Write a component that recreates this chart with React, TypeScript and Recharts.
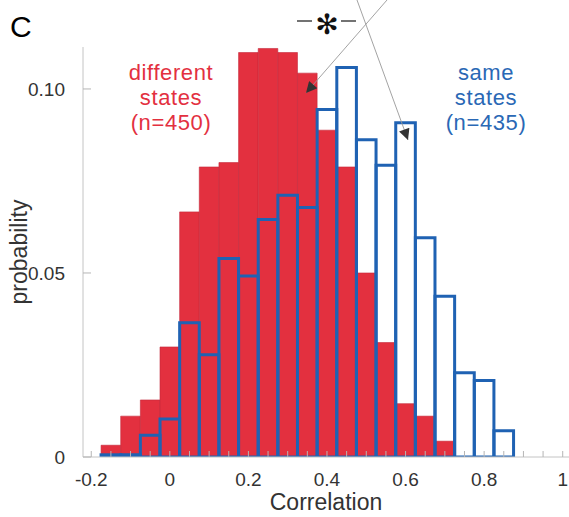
import { Bar, BarChart, XAxis, YAxis } from "recharts";

// histogram bin centres (bin width 0.05)
const binCenters = [
  -0.15, -0.1, -0.05, 0, 0.05, 0.1, 0.15, 0.2, 0.25, 0.3, 0.35, 0.4, 0.45,
  0.5, 0.55, 0.6, 0.65, 0.7, 0.75, 0.8, 0.85,
];

// probability per bin, "different states" (n=450)
const differentStates = [
  0.0032, 0.0111, 0.0155, 0.0299, 0.0666, 0.0788, 0.08, 0.1099, 0.111, 0.1099,
  0.1043, 0.0888, 0.0788, 0.05, 0.0311, 0.0145, 0.0111, 0.0043, null, null,
  null,
];

// probability per bin, "same states" (n=435)
const sameStates = [
  0.0006, 0.0006, 0.0059, 0.0103, 0.0365, 0.0278, 0.0539, 0.0492, 0.0645,
  0.0711, 0.0678, 0.0944, 0.1058, 0.0862, 0.0793, 0.0908, 0.0596, 0.0437,
  0.0229, 0.0208, 0.0071,
];

const xTicks = [
  -0.2, -0.15, -0.1, -0.05, 0, 0.05, 0.1, 0.15, 0.2, 0.25, 0.3, 0.35, 0.4,
  0.45, 0.5, 0.55, 0.6, 0.65, 0.7, 0.75, 0.8, 0.85, 0.9, 0.95, 1,
];
const xLabelValues = [-0.2, 0, 0.2, 0.4, 0.6, 0.8, 1];
const xLabels = ["-0.2", "0", "0.2", "0.4", "0.6", "0.8", "1"];

const yTicks = [0, 0.05, 0.1];
const yLabels = ["0", "0.05", "0.10"];

const RED = "#e3303f";
const BLUE = "#1f62b3";
const FONT = "'Liberation Sans', Arial, Helvetica, sans-serif";

const data = binCenters.map((x, i) => ({
  x,
  different: differentStates[i],
  same: sameStates[i],
}));

const XTick = ({ x, y, payload }: any) => {
  const idx = xLabelValues.findIndex((v) => Math.abs(v - payload.value) < 1e-6);
  return (
    <g>
      <line x1={x} x2={x} y1={y} y2={y - 6} stroke="#b5b5b5" strokeWidth={1} />
      {idx >= 0 && (
        <text
          x={x}
          y={y + 29}
          textAnchor="middle"
          fontSize={19}
          fontFamily={FONT}
          fill="#333"
        >
          {xLabels[idx]}
        </text>
      )}
    </g>
  );
};

const YTick = ({ x, y, payload }: any) => {
  const idx = yTicks.findIndex((v) => Math.abs(v - payload.value) < 1e-6);
  return (
    <g>
      <line x1={x} x2={x + 8} y1={y} y2={y} stroke="#b5b5b5" strokeWidth={1} />
      <text
        x={x - 18}
        y={y + 7}
        textAnchor="end"
        fontSize={19}
        fontFamily={FONT}
        fill="#333"
      >
        {yLabels[idx]}
      </text>
    </g>
  );
};

export default function App() {
  return (
    <div
      style={{
        position: "absolute",
        left: 0,
        top: 0,
        width: 569,
        height: 517,
        background: "#fff",
        fontFamily: FONT,
      }}
    >
      <BarChart
        width={569}
        height={517}
        data={data}
        margin={{ top: 47, right: 0, bottom: 0, left: 0 }}
        barCategoryGap={0}
        barGap={0}
      >
        <XAxis
          xAxisId="diff"
          dataKey="x"
          type="number"
          domain={[-0.221, 1.016]}
          allowDataOverflow
          ticks={xTicks}
          interval={0}
          tickSize={0}
          tickMargin={0}
          tickLine={false}
          tick={<XTick />}
          stroke="#c4c4c4"
          height={60}
          label={{
            value: "Correlation",
            position: "insideBottom",
            offset: 7,
            fontSize: 23,
            fill: "#333",
            fontFamily: FONT,
          }}
        />
        <XAxis
          xAxisId="same"
          dataKey="x"
          type="number"
          domain={[-0.221, 1.016]}
          allowDataOverflow
          hide
          height={0}
        />
        <YAxis
          type="number"
          domain={[0, 0.1114]}
          allowDataOverflow
          ticks={yTicks}
          interval={0}
          tickSize={0}
          tickMargin={0}
          tickLine={false}
          tick={<YTick />}
          stroke="#c4c4c4"
          width={83}
          label={{
            value: "probability",
            angle: -90,
            position: "insideLeft",
            offset: 19,
            fontSize: 23,
            fill: "#333",
            fontFamily: FONT,
            style: { textAnchor: "middle" },
          }}
        />
        <Bar
          xAxisId="diff"
          dataKey="different"
          fill={RED}
          stroke="#c4283a"
          strokeWidth={0.6}
          barSize={19.6}
          isAnimationActive={false}
        />
        <Bar
          xAxisId="same"
          dataKey="same"
          fill="none"
          stroke={BLUE}
          strokeWidth={3}
          barSize={19.6}
          isAnimationActive={false}
        />
      </BarChart>

      <svg
        width={569}
        height={517}
        style={{ position: "absolute", left: 0, top: 0, pointerEvents: "none" }}
      >
        <defs>
          <marker
            id="head"
            viewBox="0 0 10 10"
            refX="10"
            refY="5"
            markerWidth="15"
            markerHeight="11"
            markerUnits="userSpaceOnUse"
            orient="auto"
          >
            <path d="M0,0 L10,5 L0,10 z" fill="#333" />
          </marker>
        </defs>
        <text x={10} y={37} fontSize={30} fontFamily={FONT} fill="#000">
          C
        </text>
        <g
          fontFamily={FONT}
          fontSize={22}
          letterSpacing={0.6}
          fill={RED}
          textAnchor="middle"
        >
          <text x={171} y={80}>different</text>
          <text x={171} y={105}>states</text>
          <text x={171} y={130}>(n=450)</text>
        </g>
        <g
          fontFamily={FONT}
          fontSize={22}
          letterSpacing={0.6}
          fill="#2a68b5"
          textAnchor="middle"
        >
          <text x={486} y={80}>same</text>
          <text x={486} y={105}>states</text>
          <text x={486} y={130}>(n=435)</text>
        </g>
        <line x1={297} x2={312} y1={21} y2={21} stroke="#444" strokeWidth={1.5} />
        <line x1={341} x2={356} y1={21} y2={21} stroke="#444" strokeWidth={1.5} />
        <text
          x={327}
          y={24}
          fontSize={28}
          fontFamily="'DejaVu Sans', sans-serif"
          fill="#111"
          textAnchor="middle"
          dominantBaseline="central"
        >
          ✻
        </text>
        <line
          x1={387}
          y1={0}
          x2={306}
          y2={93}
          stroke="#999"
          strokeWidth={0.9}
          markerEnd="url(#head)"
        />
        <line
          x1={357}
          y1={0}
          x2={408}
          y2={140}
          stroke="#999"
          strokeWidth={0.9}
          markerEnd="url(#head)"
        />
      </svg>
    </div>
  );
}
